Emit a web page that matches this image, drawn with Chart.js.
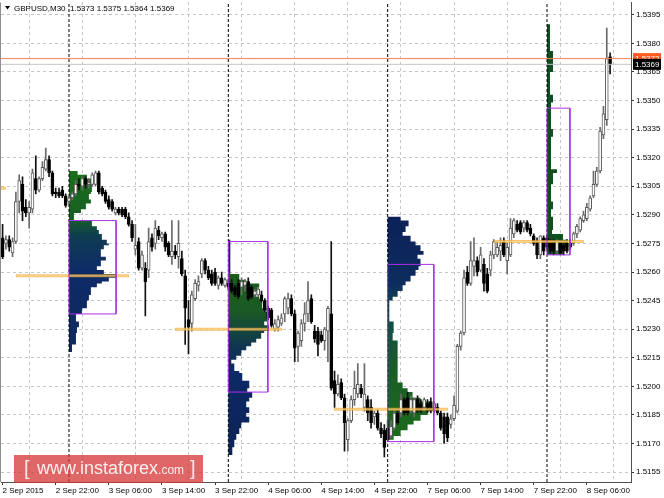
<!DOCTYPE html>
<html lang="en">
<head>
<meta charset="UTF-8">
<title>GBPUSD,M30</title>
<script src="https://cdn.jsdelivr.net/npm/chart.js"></script>
<style>
  html, body { margin: 0; padding: 0; background: #fff; }
  #wrap { position: relative; width: 664px; height: 498px; }
  #badge { position: absolute; left: 14px; top: 455px; width: 189px; height: 28px;
           background: rgba(214, 52, 52, 0.75); color: #fdf0f0;
           font-family: "Liberation Sans", Arial, sans-serif; white-space: nowrap; }
  #badge span { position: absolute; }
  #badge .br { font-size: 20px; top: 2px; color: rgba(255,255,255,0.85); }
  #badge .w { font-size: 18px; left: 23px; top: 3px; }
  #badge .w small { font-size: 12px; }
</style>
</head>
<body>
<div id="wrap">
  <canvas id="chart" width="664" height="498"></canvas>
  <div id="badge"><span class="br" style="left:10px">[</span><span class="w">www.instaforex<small>.com</small></span><span class="br" style="left:176px">]</span></div>
</div>
<script>
// GBPUSD M30, bar 0 = 2 Sep 14:00
const open = [1.5278,1.5275,1.5277,1.5270,1.5276,1.5297,1.5306,1.5294,1.5291,1.5293,1.5309,1.5303,1.5309,1.5314,1.5319,1.5312,1.5302,1.5302,1.5303,1.5300,
  1.5297,1.5299,1.5301,1.5306,1.5305,1.5309,1.5306,1.5306,1.5306,1.5312,1.5304,1.5302,1.5298,1.5297,1.5291,1.5293,1.5293,1.5293,1.5289,1.5285,
  1.5272,1.5276,1.5262,1.5262,1.5261,1.5278,1.5275,1.5282,1.5278,1.5280,1.5275,1.5268,1.5271,1.5268,1.5267,1.5258,1.5235,1.5233,1.5246,1.5253,
  1.5259,1.5266,1.5261,1.5259,1.5260,1.5253,1.5257,1.5253,1.5254,1.5254,1.5252,1.5254,1.5252,1.5253,1.5255,1.5252,1.5248,1.5248,1.5248,1.5245,
  1.5241,1.5240,1.5230,1.5231,1.5233,1.5238,1.5241,1.5246,1.5238,1.5221,1.5224,1.5233,1.5238,1.5246,1.5229,1.5229,1.5227,1.5224,1.5229,1.5238,
  1.5203,1.5196,1.5202,1.5194,1.5172,1.5182,1.5193,1.5196,1.5199,1.5189,1.5193,1.5189,1.5184,1.5186,1.5178,1.5177,1.5178,1.5174,1.5178,1.5186,
  1.5186,1.5193,1.5194,1.5187,1.5186,1.5193,1.5191,1.5189,1.5191,1.5192,1.5187,1.5189,1.5186,1.5184,1.5184,1.5180,1.5183,1.5187,1.5221,1.5228,
  1.5260,1.5254,1.5263,1.5266,1.5261,1.5264,1.5259,1.5261,1.5269,1.5269,1.5271,1.5276,1.5266,1.5269,1.5280,1.5285,1.5286,1.5283,1.5286,1.5283,
  1.5279,1.5276,1.5269,1.5278,1.5278,1.5276,1.5276,1.5271,1.5275,1.5274,1.5275,1.5275,1.5275,1.5280,1.5282,1.5287,1.5288,1.5293,1.5300,1.5306,
  1.5313,1.5332,1.5340,1.5373];
const high = [1.5285,1.5279,1.5279,1.5278,1.5302,1.5311,1.5310,1.5298,1.5297,1.5314,1.5321,1.5310,1.5318,1.5325,1.5321,1.5313,1.5304,1.5304,1.5305,1.5301,
  1.5300,1.5302,1.5308,1.5309,1.5310,1.5310,1.5309,1.5312,1.5313,1.5313,1.5305,1.5303,1.5300,1.5298,1.5294,1.5294,1.5294,1.5294,1.5291,1.5287,
  1.5285,1.5278,1.5271,1.5265,1.5283,1.5280,1.5287,1.5284,1.5281,1.5281,1.5276,1.5287,1.5274,1.5287,1.5271,1.5261,1.5245,1.5250,1.5256,1.5258,
  1.5267,1.5267,1.5263,1.5261,1.5262,1.5258,1.5260,1.5257,1.5256,1.5256,1.5253,1.5256,1.5257,1.5256,1.5257,1.5253,1.5251,1.5252,1.5250,1.5246,
  1.5242,1.5241,1.5235,1.5237,1.5238,1.5247,1.5249,1.5248,1.5240,1.5229,1.5235,1.5244,1.5255,1.5248,1.5232,1.5231,1.5229,1.5231,1.5242,1.5276,
  1.5208,1.5206,1.5204,1.5196,1.5183,1.5195,1.5208,1.5212,1.5201,1.5212,1.5195,1.5193,1.5187,1.5188,1.5181,1.5180,1.5182,1.5182,1.5187,1.5187,
  1.5196,1.5194,1.5197,1.5195,1.5194,1.5195,1.5193,1.5194,1.5193,1.5194,1.5192,1.5191,1.5187,1.5186,1.5186,1.5185,1.5195,1.5222,1.5229,1.5261,
  1.5263,1.5276,1.5278,1.5268,1.5273,1.5267,1.5262,1.5271,1.5277,1.5276,1.5278,1.5278,1.5275,1.5288,1.5288,1.5287,1.5287,1.5287,1.5287,1.5285,
  1.5280,1.5278,1.5279,1.5279,1.5279,1.5277,1.5277,1.5277,1.5276,1.5275,1.5277,1.5277,1.5281,1.5285,1.5289,1.5292,1.5296,1.5300,1.5313,1.5315,
  1.5336,1.5347,1.5388,1.5375];
const low = [1.5267,1.5272,1.5271,1.5268,1.5275,1.5291,1.5287,1.5289,1.5283,1.5291,1.5301,1.5302,1.5308,1.5313,1.5310,1.5300,1.5299,1.5299,1.5299,1.5294,
  1.5296,1.5298,1.5300,1.5303,1.5303,1.5304,1.5304,1.5305,1.5305,1.5301,1.5300,1.5296,1.5293,1.5292,1.5290,1.5290,1.5289,1.5288,1.5284,1.5276,
  1.5269,1.5261,1.5261,1.5237,1.5257,1.5271,1.5272,1.5277,1.5276,1.5271,1.5268,1.5264,1.5267,1.5262,1.5258,1.5222,1.5217,1.5229,1.5245,1.5250,
  1.5257,1.5259,1.5256,1.5253,1.5253,1.5251,1.5253,1.5252,1.5251,1.5249,1.5247,1.5246,1.5248,1.5250,1.5245,1.5246,1.5247,1.5247,1.5244,1.5239,
  1.5235,1.5231,1.5229,1.5229,1.5232,1.5234,1.5238,1.5237,1.5213,1.5213,1.5221,1.5229,1.5234,1.5233,1.5223,1.5216,1.5223,1.5219,1.5213,1.5198,
  1.5189,1.5195,1.5193,1.5166,1.5166,1.5181,1.5190,1.5194,1.5194,1.5187,1.5182,1.5178,1.5180,1.5177,1.5173,1.5163,1.5171,1.5173,1.5177,1.5180,
  1.5184,1.5185,1.5185,1.5186,1.5184,1.5186,1.5186,1.5188,1.5186,1.5186,1.5186,1.5185,1.5177,1.5170,1.5171,1.5178,1.5182,1.5186,1.5219,1.5227,
  1.5253,1.5253,1.5258,1.5258,1.5260,1.5250,1.5249,1.5258,1.5267,1.5268,1.5266,1.5268,1.5259,1.5268,1.5278,1.5281,1.5280,1.5281,1.5281,1.5279,
  1.5274,1.5267,1.5267,1.5269,1.5272,1.5270,1.5269,1.5269,1.5269,1.5269,1.5270,1.5272,1.5274,1.5278,1.5281,1.5286,1.5287,1.5292,1.5299,1.5305,
  1.5312,1.5330,1.5337,1.5364];
const close = [1.5268,1.5277,1.5273,1.5276,1.5297,1.5308,1.5292,1.5291,1.5294,1.5312,1.5303,1.5309,1.5315,1.5319,1.5312,1.5301,1.5301,1.5300,1.5300,1.5295,
  1.5299,1.5301,1.5306,1.5305,1.5309,1.5306,1.5307,1.5311,1.5312,1.5302,1.5301,1.5297,1.5294,1.5293,1.5293,1.5291,1.5290,1.5289,1.5285,1.5278,
  1.5274,1.5262,1.5269,1.5255,1.5276,1.5273,1.5283,1.5279,1.5280,1.5273,1.5269,1.5271,1.5269,1.5275,1.5259,1.5241,1.5231,1.5248,1.5254,1.5255,
  1.5266,1.5261,1.5257,1.5254,1.5254,1.5257,1.5254,1.5256,1.5252,1.5250,1.5248,1.5247,1.5255,1.5255,1.5246,1.5247,1.5250,1.5251,1.5245,1.5240,
  1.5236,1.5232,1.5233,1.5235,1.5236,1.5246,1.5246,1.5238,1.5220,1.5228,1.5233,1.5238,1.5245,1.5234,1.5225,1.5222,1.5224,1.5230,1.5241,1.5199,
  1.5196,1.5201,1.5194,1.5181,1.5182,1.5193,1.5199,1.5201,1.5196,1.5196,1.5186,1.5181,1.5186,1.5178,1.5175,1.5168,1.5172,1.5179,1.5186,1.5181,
  1.5193,1.5186,1.5186,1.5193,1.5193,1.5187,1.5187,1.5193,1.5187,1.5187,1.5191,1.5186,1.5178,1.5175,1.5173,1.5183,1.5190,1.5221,1.5228,1.5257,
  1.5254,1.5266,1.5266,1.5260,1.5269,1.5254,1.5250,1.5269,1.5276,1.5273,1.5274,1.5269,1.5273,1.5283,1.5287,1.5282,1.5281,1.5286,1.5282,1.5280,
  1.5275,1.5269,1.5279,1.5271,1.5273,1.5271,1.5271,1.5276,1.5270,1.5271,1.5271,1.5273,1.5280,1.5284,1.5288,1.5290,1.5294,1.5299,1.5306,1.5313,
  1.5334,1.5343,1.5372,1.5369];

const timeTicks  = [0, 16, 32, 48, 64, 80, 96, 112, 128, 144, 160, 176];
const timeLabels = ['2 Sep 2015', '2 Sep 22:00', '3 Sep 06:00', '3 Sep 14:00', '3 Sep 22:00', '4 Sep 06:00',
                    '4 Sep 14:00', '4 Sep 22:00', '7 Sep 06:00', '7 Sep 14:00', '7 Sep 22:00', '8 Sep 06:00'];
const gridBars   = [8, 24, 40, 56, 72, 88, 104, 120, 136, 152, 168, 184];
const priceTicks = [1.5155, 1.5170, 1.5185, 1.5200, 1.5215, 1.5230, 1.5245, 1.5260, 1.5275,
                    1.5290, 1.5305, 1.5320, 1.5335, 1.5350, 1.5365, 1.5380, 1.5395];
const dayStarts  = [20, 68, 116, 164];   // 3, 4, 7, 8 Sep 00:00

const ask = 1.5372, bid = 1.5369;

// market profiles: price levels top->bottom, TPO length of each row (in bars)
const p1Levels = [1.5313,1.5311,1.5309,1.5306,1.5302,1.5301,1.5298,1.5296,1.5293,1.5291,1.5287,1.5284,1.5282,1.5280,1.5277,1.5275,1.5274,1.5272,
  1.5268,1.5266,1.5263,1.5261,1.5259,1.5257,1.5255,1.5254,1.5252,1.5248,1.5245,1.5241,1.5238,1.5234,1.5231,1.5228,1.5222,1.5218];
const p1Tpo = [2.6,5.4,6.9,6.9,6.6,6,6.6,5.1,3.6,1.5,6.9,8.4,9,9.9,11.4,12,10.5,9.6,11.1,9.6,8.4,10.5,14.2,12,9.9,8.4,6.6,6,5.4,3.9,2.1,3,2.4,2.1,0.9];
const p2Levels = [1.5277,1.5259,1.5256,1.5254,1.5252,1.5250,1.5247,1.5246,1.5244,1.5241,1.5239,1.5234,1.5232,1.5229,1.5228,1.5225,1.5223,1.5221,1.5219,
  1.5216,1.5214,1.5212,1.5208,1.5207,1.5203,1.5199,1.5197,1.5194,1.5192,1.5189,1.5186,1.5184,1.5181,1.5178,1.5175,1.5172,1.5168,1.5164];
const p2Tpo = [0.6,3.3,5.4,9.3,8.7,8.4,9.3,9.9,10.2,10.8,11.7,10.8,12.3,10.8,9.9,8.4,6.9,5.4,3.9,2.4,0.9,1.8,3.3,4.2,6.3,5.7,7.2,6.3,5.4,6.3,5.4,6.3,3.9,3.3,2.4,1.8,1.2];
const p3Levels = [1.5289,1.5287,1.5284,1.5281,1.5279,1.5276,1.5274,1.5271,1.5269,1.5267,1.5263,1.5261,1.5258,1.5255,1.5253,1.5250,1.5247,1.5245,
  1.5234,1.5228,1.5224,1.5202,1.5199,1.5197,1.5194,1.5192,1.5189,1.5187,1.5185,1.5182,1.5180,1.5177,1.5174,1.5172];
const p3Tpo = [3.9,6.3,5.4,4.5,6.9,8.4,9.9,10.8,9,9.9,9.3,8.4,6.9,5.4,4.5,3,1.5,0.5,1.8,1.5,3,4.5,6,7.5,9.9,13,14.5,12,9.9,7.8,6,3.9,1.8];
const p4Levels = [1.5390,1.5376,1.5365,1.5353,1.5349,1.5335,1.5331,1.5314,1.5312,1.5306,1.5297,1.5293,1.5289,1.5282,1.5280,1.5277,1.5275,1.5273,1.5269];
const p4Tpo = [0.9,1.8,0.9,1.8,1.2,1.8,1.2,3,1.8,1.2,1.8,1.2,1.8,1.5,4.8,6.3,6,4.8];

// value areas and points of control
const vaStart = [20, 68, 116, 164];
const vaEnd   = [34.2, 79.9, 129.9, 170.9];
const vaHigh  = [1.5287, 1.5276, 1.5264, 1.5346];
const vaLow   = [1.5238, 1.5197, 1.5171, 1.5269];
const pocPrice = [1.5304, 1.5258, 1.5230, 1.5188, 1.5276];
const pocFrom  = [-1, 4, 51.9, 99.8, 148];
const pocTo    = [1, 38.1, 84.2, 134.2, 175.1];

const xMin = -0.48, xMax = 189.3, yMin = 1.51498, yMax = 1.54015;

const FONT = '"Liberation Sans", Arial, sans-serif';

const profiles = [
  { start: dayStarts[0], levels: p1Levels, tpo: p1Tpo,
    stops: [[0, '#1b6e1b'], [0.26, '#166023'], [0.36, '#0f3c52'], [0.55, '#0e2b68'], [1, '#0e2a5e']] },
  { start: dayStarts[1], levels: p2Levels, tpo: p2Tpo,
    stops: [[0, '#0d2a5a'], [0.15, '#0d2a5a'], [0.16, '#1b5e1b'], [0.33, '#1a5a24'], [0.5, '#0f3552'], [0.62, '#0d2a66'], [1, '#0b2256']] },
  { start: dayStarts[2], levels: p3Levels, tpo: p3Tpo,
    stops: [[0, '#0b2058'], [0.3, '#0e2d5e'], [0.42, '#124a42'], [0.7, '#1a5e26'], [1, '#1b6a1b']] },
  { start: dayStarts[3], levels: p4Levels, tpo: p4Tpo,
    stops: [[0, '#0f4d24'], [1, '#0f5220']] }
];

function profileShape(start, levels, tpo) {
  const pts = [{ x: start, y: levels[0] }];
  tpo.forEach((n, k) => {
    pts.push({ x: start + n, y: levels[k] });
    pts.push({ x: start + n, y: levels[k + 1] });
  });
  pts.push({ x: start, y: levels[levels.length - 1] });
  return pts;
}

function profileFill(chart, p) {
  if (!chart.chartArea) return p.stops[0][1];
  const ys = chart.scales.y;
  const g = chart.ctx.createLinearGradient(0, ys.getPixelForValue(p.levels[0]), 0,
                                           ys.getPixelForValue(p.levels[p.levels.length - 1]));
  p.stops.forEach(s => g.addColorStop(s[0], s[1]));
  return g;
}

const datasets = [];

profiles.forEach(p => datasets.push({
  type: 'line', data: profileShape(p.start, p.levels, p.tpo), fill: 'shape',
  borderWidth: 0, order: 60, backgroundColor: c => profileFill(c.chart, p)
}));

dayStarts.forEach(d => datasets.push({
  type: 'line', data: [{ x: d, y: yMin }, { x: d, y: yMax }],
  borderColor: '#000', borderWidth: 1, borderDash: [3, 2], order: 50
}));

const up = close.map((c, i) => c >= open[i]);
datasets.push({
  type: 'bar', data: high.map((h, i) => ({ x: i, y: [low[i], h] })),
  backgroundColor: up.map(u => u ? '#6a6a6a' : '#111'), barThickness: 1,
  grouped: false, borderSkipped: false, order: 45
});
datasets.push({
  type: 'bar', data: open.map((o, i) => ({ x: i, y: [o, close[i]] })),
  backgroundColor: up.map(u => u ? '#fff' : '#000'),
  borderColor: up.map(u => u ? '#5a5a5a' : '#000'), borderWidth: 1,
  barThickness: 3, minBarLength: 1, grouped: false, borderSkipped: false, order: 40
});

pocPrice.forEach((p, i) => {
  datasets.push({ type: 'line', data: [{ x: pocFrom[i], y: p }, { x: pocTo[i], y: p }],
    borderColor: 'rgba(243,170,50,0.7)', borderWidth: 3, borderCapStyle: 'butt', order: 30 });
  datasets.push({ type: 'line', data: [{ x: pocFrom[i] + 0.3, y: p }, { x: pocTo[i] - 0.3, y: p }],
    borderColor: 'rgba(255,232,180,0.55)', borderWidth: 1, order: 29 });
});

vaStart.forEach((s, i) => datasets.push({
  type: 'line', order: 20, borderColor: '#a833e6', borderWidth: 1,
  data: [{ x: s, y: vaHigh[i] }, { x: vaEnd[i], y: vaHigh[i] }, { x: vaEnd[i], y: vaLow[i] },
         { x: s, y: vaLow[i] }, { x: s, y: vaHigh[i] }]
}));

datasets.push({ type: 'line', data: [{ x: xMin, y: bid }, { x: xMax, y: bid }],
  borderColor: '#c4c4c4', borderWidth: 1, order: 11 });
datasets.push({ type: 'line', data: [{ x: xMin, y: ask }, { x: xMax, y: ask }],
  borderColor: '#ff7f50', borderWidth: 1, order: 10 });

// header, price tags and left frame
const overlay = {
  id: 'overlay',
  afterDraw(chart) {
    const ctx = chart.ctx, a = chart.chartArea, ys = chart.scales.y;
    ctx.save();
    ctx.strokeStyle = '#909090';
    ctx.lineWidth = 1;
    ctx.beginPath(); ctx.moveTo(a.left - 0.5, a.top); ctx.lineTo(a.left - 0.5, a.bottom); ctx.stroke();

    ctx.fillStyle = '#000';
    ctx.beginPath(); ctx.moveTo(5, 6); ctx.lineTo(10, 6); ctx.lineTo(7.5, 9.5); ctx.closePath(); ctx.fill();
    ctx.font = '8px ' + FONT;
    ctx.textBaseline = 'alphabetic';
    const n = close.length - 1;
    ctx.fillText('GBPUSD,M30', 14, 11);
    ctx.fillText([open[n], high[n], low[n], close[n]].map(v => v.toFixed(4)).join(' '), 70, 11);

    [[ask, '#ff5a20'], [bid, '#000']].forEach(([p, col]) => {
      const y = ys.getPixelForValue(p);
      ctx.fillStyle = col;
      ctx.fillRect(a.right + 2, y - 5.5, 28, 11);
      ctx.fillStyle = '#fff';
      ctx.textBaseline = 'middle';
      ctx.fillText(p.toFixed(4), a.right + 4, y + 0.5);
    });
    ctx.restore();
  }
};

new Chart(document.getElementById('chart'), {
  type: 'line',
  data: { datasets },
  plugins: [overlay],
  options: {
    responsive: false,
    animation: false,
    events: [],
    layout: { padding: { left: 1, top: 0, right: 0, bottom: 0 } },
    elements: { point: { radius: 0 }, line: { tension: 0 } },
    plugins: { legend: { display: false }, tooltip: { enabled: false } },
    scales: {
      x: {
        type: 'linear', min: xMin, max: xMax, offset: false,
        afterBuildTicks: s => { s.ticks = timeTicks.map(v => ({ value: v })); },
        afterFit: s => { s.height = 16; },
        ticks: { autoSkip: false, maxRotation: 0, align: 'start', padding: 1, color: '#000',
                 font: { family: FONT, size: 8 },
                 callback: v => timeLabels[timeTicks.indexOf(v)] },
        grid: { drawOnChartArea: false, drawTicks: true, tickLength: 3, tickColor: '#333', offset: false },
        border: { display: true, color: '#505050', width: 1 }
      },
      x2: {
        type: 'linear', position: 'top', min: xMin, max: xMax, offset: false,
        afterBuildTicks: s => { s.ticks = gridBars.map(v => ({ value: v })); },
        afterFit: s => { s.height = 0; },
        ticks: { display: false },
        grid: { color: '#c6c6c6', drawTicks: false, offset: false },
        border: { display: false, dash: [3, 3] }
      },
      y: {
        type: 'linear', position: 'right', min: yMin, max: yMax,
        afterBuildTicks: s => { s.ticks = priceTicks.map(v => ({ value: v })); },
        afterFit: s => { s.width = 33; },
        ticks: { padding: 2, color: '#000', font: { family: FONT, size: 8, lineHeight: 0.1 },
                 callback: v => v.toFixed(4) },
        grid: { color: '#c6c6c6', drawTicks: true, tickLength: 3, tickColor: '#333' },
        border: { display: true, color: '#505050', width: 1, dash: [3, 3] }
      }
    }
  }
});
</script>
</body>
</html>
